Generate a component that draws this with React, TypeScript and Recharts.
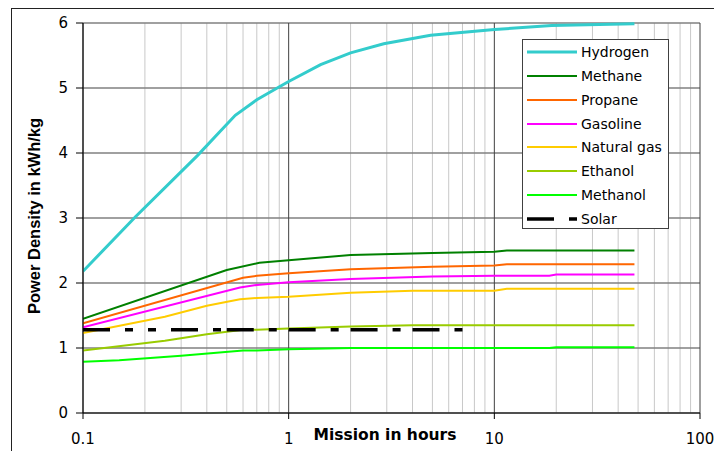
import React from 'react';
import { LineChart, Line, XAxis, YAxis, CartesianGrid } from 'recharts';

// mission length (hours) and power density (kWh/kg) per fuel
const hydrogenHours = [0.1, 0.18, 0.36, 0.46, 0.55, 0.7, 0.88, 1, 1.43, 2, 2.9, 4.9, 10, 19, 48];
const hydrogen = [2.18, 3.02, 3.96, 4.32, 4.58, 4.82, 5.0, 5.1, 5.36, 5.54, 5.68, 5.81, 5.9, 5.96, 5.99];

const methaneHours = [0.1, 0.5, 0.72, 1, 2, 5, 10, 11.5, 48];
const methane = [1.45, 2.2, 2.31, 2.35, 2.43, 2.46, 2.48, 2.5, 2.5];

const propaneHours = [0.1, 0.6, 0.7, 1, 2, 5, 10, 11.5, 48];
const propane = [1.38, 2.08, 2.11, 2.15, 2.21, 2.25, 2.27, 2.29, 2.29];

const gasolineHours = [0.1, 0.58, 0.7, 1, 2, 5, 10, 18.5, 20, 48];
const gasoline = [1.32, 1.93, 1.97, 2.01, 2.06, 2.1, 2.11, 2.11, 2.13, 2.13];

const naturalGasHours = [0.1, 0.25, 0.4, 0.58, 0.7, 1, 2, 4, 10, 11.5, 48];
const naturalGas = [1.23, 1.48, 1.65, 1.75, 1.77, 1.79, 1.85, 1.88, 1.88, 1.91, 1.91];

const ethanolHours = [0.1, 0.25, 0.4, 0.6, 0.7, 1, 2, 4, 48];
const ethanol = [0.96, 1.11, 1.21, 1.28, 1.28, 1.3, 1.33, 1.35, 1.35];

const methanolHours = [0.1, 0.15, 0.3, 0.6, 0.7, 1, 2, 18.5, 20, 48];
const methanol = [0.79, 0.81, 0.88, 0.96, 0.96, 0.98, 1.0, 1.0, 1.01, 1.01];

const solarHours = [0.1, 0.5, 1, 2, 4, 7.5];
const solar = [1.28, 1.28, 1.28, 1.28, 1.28, 1.28];

const hourTicks = [0.1, 1, 10, 100];
const minorHours = [0.2, 0.3, 0.4, 0.5, 0.6, 0.7, 0.8, 0.9, 2, 3, 4, 5, 6, 7, 8, 9, 20, 30, 40, 50, 60, 70, 80, 90];
const densityTicks = [0, 1, 2, 3, 4, 5, 6];

const SOLAR_DASH = '27 15 8 15 8 15';

interface FuelSeries {
    name: string;
    color: string;
    width: number;
    hours: number[];
    values: number[];
}

const fuels: FuelSeries[] = [
    { name: 'Hydrogen', color: '#33CCCC', width: 3, hours: hydrogenHours, values: hydrogen },
    { name: 'Methane', color: '#008000', width: 2, hours: methaneHours, values: methane },
    { name: 'Propane', color: '#FF6600', width: 2, hours: propaneHours, values: propane },
    { name: 'Gasoline', color: '#FF00FF', width: 2, hours: gasolineHours, values: gasoline },
    { name: 'Natural gas', color: '#FFCC00', width: 2, hours: naturalGasHours, values: naturalGas },
    { name: 'Ethanol', color: '#99CC00', width: 2, hours: ethanolHours, values: ethanol },
    { name: 'Methanol', color: '#00FF00', width: 2, hours: methanolHours, values: methanol },
];

const toPoints = (hours: number[], values: number[]) => hours.map((x, i) => ({ x, y: values[i] }));

// Excel restarts the dash pattern at every data point, so draw solar piece by piece
const solarSegments = solarHours.slice(1).map((_, i) =>
    toPoints(solarHours.slice(i, i + 2), solar.slice(i, i + 2))
);

const tickFont = { fontFamily: 'DejaVu Sans', fontSize: 15, fill: '#000' };

const ChartLegend = () => (
    <div style={{
        position: 'absolute', left: 522, top: 39, width: 145, height: 188,
        border: '1px solid #404040', background: '#fff',
        fontFamily: 'DejaVu Sans', fontSize: 14, color: '#000',
    }}>
        {[...fuels.map(f => ({ name: f.name, color: f.color, width: f.width, dash: undefined as string | undefined })),
          { name: 'Solar', color: '#000', width: 3.5, dash: SOLAR_DASH }].map((item, i) => (
            <div key={item.name} style={{
                position: 'absolute', left: 4, top: 12 + i * 23.85 - 9, height: 18,
                display: 'flex', alignItems: 'center', whiteSpace: 'nowrap',
            }}>
                <svg width={50} height={8} style={{ marginRight: 4 }}>
                    <line x1={0} y1={4} x2={50} y2={4} stroke={item.color}
                          strokeWidth={item.width} strokeDasharray={item.dash} />
                </svg>
                <span>{item.name}</span>
            </div>
        ))}
    </div>
);

export default function App() {
    return (
        <div style={{ position: 'absolute', left: 0, top: 0, width: 714, height: 451, overflow: 'hidden', background: '#fff' }}>
            <div style={{ position: 'absolute', left: 11, top: 8, width: 760, height: 500, border: '1px solid #222' }} />
            <div style={{ position: 'absolute', left: 0, top: 0 }}>
                <LineChart width={714} height={451} margin={{ top: 23, right: 14, bottom: 0, left: 0 }}>
                    <CartesianGrid horizontal={false} verticalValues={minorHours} stroke="#c8c8c8" strokeWidth={1} />
                    <CartesianGrid vertical={false} stroke="#808080" strokeWidth={1.3} />
                    <CartesianGrid horizontal={false} stroke="#404040" strokeWidth={1} />
                    <XAxis
                        dataKey="x"
                        type="number"
                        scale="log"
                        domain={[0.1, 100]}
                        ticks={hourTicks}
                        allowDataOverflow
                        height={38}
                        tickSize={6}
                        tickMargin={14}
                        tick={tickFont}
                        stroke="#000"
                        interval={0}
                    />
                    <YAxis
                        type="number"
                        domain={[0, 6]}
                        ticks={densityTicks}
                        width={83}
                        tickSize={7}
                        tickMargin={8}
                        tick={tickFont}
                        stroke="#000"
                        interval={0}
                    />
                    {fuels.map(f => (
                        <Line
                            key={f.name}
                            data={toPoints(f.hours, f.values)}
                            dataKey="y"
                            name={f.name}
                            type="linear"
                            stroke={f.color}
                            strokeWidth={f.width}
                            dot={false}
                            activeDot={false}
                            isAnimationActive={false}
                        />
                    ))}
                    {solarSegments.map((seg, i) => (
                        <Line
                            key={`solar-${i}`}
                            data={seg}
                            dataKey="y"
                            name="Solar"
                            type="linear"
                            stroke="#000"
                            strokeWidth={3.5}
                            strokeDasharray={SOLAR_DASH}
                            dot={false}
                            activeDot={false}
                            isAnimationActive={false}
                        />
                    ))}
                </LineChart>
            </div>
            <ChartLegend />
            <div style={{
                position: 'absolute', left: 385, top: 428, transform: 'translateX(-50%)',
                fontFamily: 'DejaVu Sans', fontWeight: 'bold', fontSize: 15.5, lineHeight: 1, whiteSpace: 'nowrap',
            }}>
                Mission in hours
            </div>
            <div style={{
                position: 'absolute', left: 34, top: 216, transform: 'translate(-50%, -50%) rotate(-90deg)',
                fontFamily: 'Liberation Sans', fontWeight: 'bold', fontSize: 16.5, lineHeight: 1, whiteSpace: 'nowrap',
            }}>
                Power Density in kWh/kg
            </div>
        </div>
    );
}
